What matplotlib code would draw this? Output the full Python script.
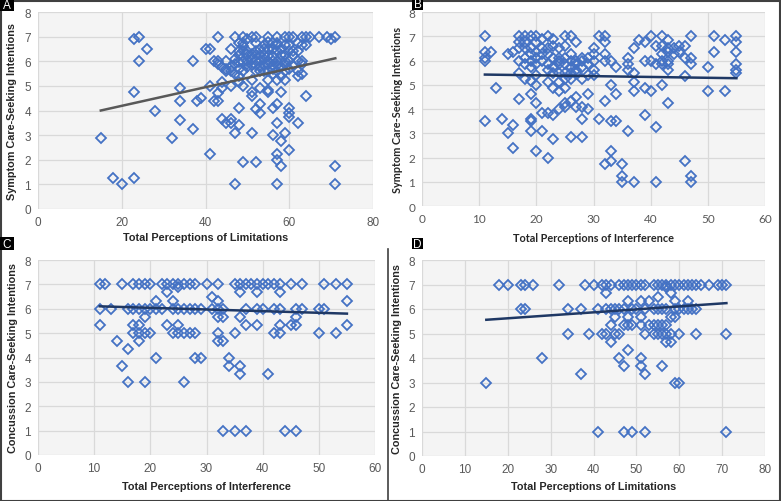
import matplotlib
matplotlib.use("Agg")
import matplotlib.pyplot as plt
from matplotlib.patches import Rectangle
from matplotlib.lines import Line2D

# ---------------- data ----------------
# Panel A: Total Perceptions of Limitations vs Symptom Care-Seeking Intentions
a_pts = [(15, 2.9), (18, 1.25), (20, 1.0), (23, 1.25), (23, 6.9), (24, 7.0), (23, 4.75), (24, 6.0),
         (26, 6.5), (28, 4.0), (32, 2.9), (34, 4.9), (34, 4.4), (34, 3.6), (37, 6.0), (37, 3.25),
         (38, 4.4), (39, 4.5), (40, 6.5), (41, 6.5), (41, 5.0), (41, 2.25), (42, 6.0), (42, 4.4),
         (43, 7.0), (43, 6.0), (43, 5.9), (43, 4.7), (43, 4.4), (44, 5.15), (44, 4.9), (44, 3.65),
         (45, 5.7), (45, 3.5), (46, 6.5), (46, 5.6), (46, 5.0), (46, 3.65), (46, 3.5),
         (47, 7.0), (47, 5.9), (47, 3.1), (47, 1.0), (48, 6.75), (48, 6.4), (48, 5.95), (48, 5.7),
         (48, 5.15), (48, 4.1), (48, 3.4), (49, 7.0), (49, 6.75), (49, 6.4), (49, 5.95), (49, 5.0),
         (49, 1.9), (50, 6.3), (50, 5.9), (51, 7.0), (51, 6.3), (51, 5.25), (51, 4.75), (51, 4.6),
         (51, 3.1), (52, 7.0), (52, 6.75), (52, 6.4), (52, 6.0), (52, 5.6), (52, 4.05), (52, 1.9),
         (53, 6.0), (53, 5.6), (53, 4.9), (53, 4.25), (53, 3.9), (54, 6.5), (54, 6.1), (54, 5.85),
         (55, 7.0), (55, 6.5), (55, 6.2), (55, 5.9), (55, 5.25), (55, 4.85), (55, 4.75),
         (56, 6.75), (56, 6.2), (56, 5.7), (56, 4.1), (56, 3.0), (57, 7.0), (57, 6.75), (57, 6.4),
         (57, 6.0), (57, 5.6), (57, 5.25), (57, 4.25), (57, 3.5), (57, 2.25), (57, 2.0), (57, 1.0),
         (58, 6.5), (58, 6.0), (58, 5.4), (58, 4.75), (58, 2.75), (58, 1.75), (59, 7.0), (59, 6.65),
         (59, 6.0), (59, 5.25), (59, 3.1), (60, 7.0), (60, 6.4), (60, 5.7), (60, 4.1), (60, 3.9),
         (60, 3.75), (60, 2.4), (61, 7.0), (61, 6.4), (62, 6.75), (62, 6.4), (62, 6.0), (62, 5.4),
         (62, 3.5), (63, 7.0), (63, 6.0), (63, 5.5), (64, 7.0), (64, 6.65), (64, 4.6), (65, 7.0),
         (67, 7.0), (69, 7.0), (70, 6.9), (71, 7.0), (71, 1.75), (71, 1.0),
         (47, 6.1), (48, 6.25), (49, 6.6), (50, 6.0), (50, 5.75), (51, 5.85), (51, 6.1), (52, 5.85),
         (53, 6.25), (53, 5.75), (54, 6.25), (54, 5.6), (55, 6.0), (55, 5.6), (56, 6.0),
         (56, 5.85), (56, 5.5), (57, 5.85), (58, 6.25), (58, 5.75), (59, 5.6), (59, 5.9), (60, 6.0),
         (60, 6.65), (61, 5.85), (62, 5.6), (63, 5.9), (46, 5.75), (45, 6.0), (44, 5.75), (53, 6.5),
         (52, 6.25), (49, 5.6), (50, 6.4), (48, 5.4), (47, 5.5), (59, 6.25), (61, 6.25),
         (63, 6.65), (54, 6.65), (55, 6.8), (56, 6.5), (57, 6.65), (45, 5.6), (50, 6.9)]
a_trend_x = [15, 71]
a_trend_y = [4.0, 6.12]

# Panel B: Total Perceptions of Interference vs Symptom Care-Seeking Intentions
b_pts = [(11, 7.0), (11, 6.35), (11, 6.1), (11, 6.0), (11, 3.5), (12, 6.35), (13, 4.85), (14, 3.6),
         (15, 6.25), (15, 3.0), (16, 6.35), (16, 3.35), (16, 2.4), (17, 7.0), (17, 6.75), (17, 6.5),
         (17, 6.0), (17, 5.5), (17, 4.4), (18, 7.0), (18, 6.75), (18, 6.5), (18, 5.85), (18, 5.25),
         (19, 7.0), (19, 6.25), (19, 6.0), (19, 5.75), (19, 5.15), (19, 4.6), (19, 3.6), (19, 3.5),
         (19, 3.1), (20, 7.0), (20, 6.35), (20, 6.1), (20, 5.85), (20, 5.4), (20, 5.0), (20, 4.25),
         (20, 2.25), (21, 6.9), (21, 6.0), (21, 3.85), (21, 3.1), (22, 7.0), (22, 6.5), (22, 6.25),
         (22, 5.85), (22, 5.1), (22, 3.85), (22, 2.0), (23, 6.9), (23, 6.6), (23, 5.75), (23, 4.85),
         (23, 3.75), (23, 2.75), (24, 6.5), (24, 6.1), (24, 6.0), (24, 5.5), (24, 5.1), (24, 4.75),
         (24, 4.0), (25, 7.0), (25, 6.6), (25, 6.1), (25, 5.5), (25, 5.25), (25, 4.85), (25, 4.25),
         (25, 4.1), (26, 7.0), (26, 6.0), (26, 5.75), (26, 5.25), (26, 4.35), (26, 2.85),
         (27, 6.75), (27, 5.85), (27, 5.6), (27, 5.5), (27, 4.5), (27, 4.1), (28, 6.1), (28, 5.75),
         (28, 5.25), (28, 4.1), (28, 3.6), (28, 2.85), (29, 5.85), (29, 5.4), (29, 4.6), (29, 4.0),
         (30, 6.5), (30, 6.25), (30, 6.0), (30, 5.4), (31, 7.0), (31, 3.6), (32, 7.0), (32, 6.75),
         (32, 6.25), (32, 6.0), (32, 4.35), (32, 1.75), (33, 5.0), (33, 3.5), (33, 2.25), (33, 1.85),
         (34, 4.6), (34, 3.5), (35, 1.75), (35, 1.25), (35, 1.0), (36, 6.1), (36, 5.85), (36, 5.6),
         (36, 3.1), (37, 6.5), (37, 5.5), (37, 5.1), (37, 4.75), (37, 1.0), (38, 6.85), (39, 6.75),
         (39, 6.0), (39, 4.85), (39, 3.75), (40, 7.0), (40, 6.0), (40, 4.75), (41, 6.6), (41, 5.85),
         (41, 3.25), (41, 1.0), (42, 7.0), (42, 6.25), (42, 6.0), (42, 5.85), (42, 5.0), (43, 6.85),
         (43, 6.5), (43, 6.35), (43, 6.0), (43, 5.6), (43, 4.25), (44, 6.5), (45, 6.6), (45, 6.35),
         (46, 6.6), (46, 6.1), (46, 5.35), (46, 1.85), (47, 7.0), (47, 6.1), (47, 5.85), (47, 1.25),
         (47, 1.0), (50, 5.75), (50, 4.75), (51, 7.0), (51, 6.35), (53, 6.85), (53, 4.75),
         (55, 7.0), (55, 6.75), (55, 6.35), (55, 5.85), (55, 5.6), (55, 5.5),
         (18, 6.1), (19, 6.5), (21, 6.25), (21, 6.5), (22, 5.6), (23, 6.1), (24, 5.85), (25, 5.85),
         (26, 6.25), (26, 5.5), (27, 6.0), (23, 5.5), (20, 6.75), (28, 6.0), (29, 6.1), (30, 5.6),
         (33, 6.0), (34, 5.75), (42, 6.6), (44, 6.25), (43, 5.85)]
b_trend_x = [11, 55]
b_trend_y = [5.42, 5.27]

# Panel C: Total Perceptions of Interference vs Concussion Care-Seeking Intentions
c_pts = [(11, 7), (11, 6), (11, 5.33), (12, 7), (13, 6), (14, 4.67), (15, 7), (15, 3.67),
         (16, 6), (16, 4.33), (16, 3), (17, 7), (17, 6), (17, 5.33), (17, 5), (18, 7), (18, 6),
         (18, 5.33), (18, 5), (18, 4.67), (19, 7), (19, 6), (19, 5.67), (19, 5), (19, 3), (20, 7),
         (20, 6), (20, 5), (21, 6.33), (21, 6), (21, 4), (22, 7), (22, 6), (23, 7), (23, 6.67),
         (23, 5.33), (24, 7), (24, 6.33), (24, 6), (24, 5), (25, 7), (25, 6.9), (25, 6), (25, 5.33),
         (25, 5), (26, 7), (26, 6), (26, 5), (26, 3), (27, 7), (27, 6), (27, 5), (28, 7), (28, 6),
         (28, 5), (28, 4), (29, 6), (29, 4), (30, 7), (31, 6.5), (31, 6), (32, 7), (32, 6.33),
         (32, 6), (32, 5.67), (32, 5), (32, 4.67), (33, 6), (33, 5.67), (33, 4.67), (33, 1),
         (34, 4), (34, 3.67), (35, 7), (35, 5), (35, 1), (36, 7), (36, 6.67), (36, 5.67),
         (36, 3.67), (36, 3.33), (37, 7), (37, 6), (37, 5.33), (37, 1), (38, 7), (39, 7),
         (39, 6.67), (39, 6), (39, 5.33), (40, 7), (40, 6), (41, 7), (41, 3.33), (42, 7), (42, 6),
         (42, 5), (43, 7), (43, 6.67), (43, 6), (43, 5.33), (43, 5), (44, 1), (45, 7), (45, 5.33),
         (46, 6), (46, 5.67), (46, 5.33), (46, 1), (47, 7), (47, 6), (50, 6), (50, 5), (51, 7),
         (51, 6), (53, 7), (53, 5), (55, 7), (55, 6.33), (55, 5.33)]
c_trend_x = [11, 55]
c_trend_y = [6.10, 5.80]

# Panel D: Total Perceptions of Limitations vs Concussion Care-Seeking Intentions
d_pts = [(15, 3), (18, 7), (20, 7), (23, 7), (23, 6), (24, 7), (24, 6), (26, 7), (28, 4), (32, 7),
         (34, 6), (34, 5), (37, 6), (37, 3.33), (38, 7), (39, 5), (40, 7), (41, 6), (41, 1),
         (42, 7), (42, 5), (43, 7), (43, 6.67), (43, 6), (43, 5), (44, 7), (44, 6), (44, 5.33),
         (44, 4.67), (45, 6), (45, 5.67), (45, 5), (46, 7), (46, 6), (46, 5), (46, 4), (47, 7),
         (47, 6), (47, 5.33), (47, 3.67), (47, 1), (48, 7), (48, 6.33), (48, 5.67), (48, 5.33),
         (48, 4.33), (49, 7), (49, 6), (49, 5.33), (49, 1), (50, 7), (50, 6), (51, 7), (51, 6.33),
         (51, 5.67), (51, 5.33), (51, 4), (51, 3.67), (52, 7), (52, 6), (52, 5), (52, 3.33), (52, 1),
         (53, 6.33), (53, 5.33), (54, 7), (54, 6), (54, 5.33), (54, 5), (55, 7), (55, 6.5), (55, 6),
         (55, 5.33), (55, 5), (56, 7), (56, 6), (56, 5.33), (56, 5), (56, 3.67), (57, 7), (57, 6.9),
         (57, 6), (57, 5.33), (57, 5), (57, 4.67), (58, 7), (58, 6.67), (58, 5.67), (58, 5),
         (58, 4.67), (59, 7), (59, 6.33), (59, 6), (59, 5.67), (59, 3), (60, 7), (60, 6), (60, 5),
         (60, 3), (61, 7), (61, 6), (62, 7), (62, 6.33), (62, 6), (63, 7), (63, 6), (64, 7), (64, 6),
         (64, 5), (65, 7), (67, 7), (69, 7), (70, 7), (71, 7), (71, 5), (71, 1)]
d_trend_x = [15, 71]
d_trend_y = [5.56, 6.24]

# ---------------- styling ----------------
W, H = 781, 502
fig = plt.figure(figsize=(W / 100, H / 100), dpi=100)
fig.patch.set_facecolor("white")

BLUE = "#4472C4"
GRID = "#d9d9d9"
FACE = "#f4f4f4"
TICKC = "#595959"
LABC = "#262626"


def px_rect(l, t, r, b):
    return [l / W, 1 - b / H, (r - l) / W, (b - t) / H]


panels = [
    dict(pts=a_pts, tx=a_trend_x, ty=a_trend_y, rect=px_rect(38, 13, 373, 210), xmax=80, xstep=20,
         xlabel="Total Perceptions of Limitations", ylabel="Symptom Care-Seeking Intentions",
         tcolor="#595959", font="Liberation Sans", xlab_y=-0.142, ylab_x=-0.078),
    dict(pts=b_pts, tx=b_trend_x, ty=b_trend_y, rect=px_rect(422, 13, 765, 207), xmax=60, xstep=10,
         xlabel="Total Perceptions of Interference", ylabel="Symptom Care-Seeking Intentions",
         tcolor="#1f3864", font="Lato", xlab_y=-0.16, ylab_x=-0.07),
    dict(pts=c_pts, tx=c_trend_x, ty=c_trend_y, rect=px_rect(38, 261, 375, 456), xmax=60, xstep=10,
         xlabel="Total Perceptions of Interference", ylabel="Concussion Care-Seeking Intentions",
         tcolor="#1f3864", font="Liberation Sans", xlab_y=-0.159, ylab_x=-0.074),
    dict(pts=d_pts, tx=d_trend_x, ty=d_trend_y, rect=px_rect(422, 261, 765, 457), xmax=80, xstep=10,
         xlabel="Total Perceptions of Limitations", ylabel="Concussion Care-Seeking Intentions",
         tcolor="#1f3864", font="Liberation Sans", xlab_y=-0.153, ylab_x=-0.073),
]

for p in panels:
    ax = fig.add_axes(p["rect"])
    ax.set_facecolor(FACE)
    xs = [q[0] for q in p["pts"]]
    ys = [q[1] for q in p["pts"]]
    ax.plot(xs, ys, linestyle="none", marker="D", markersize=5.2, markerfacecolor="none",
            markeredgecolor=BLUE, markeredgewidth=1.3, zorder=3)
    ax.plot(p["tx"], p["ty"], color=p["tcolor"], linewidth=1.8, zorder=4)
    ax.set_xlim(0, p["xmax"])
    ax.set_ylim(0, 8)
    ax.set_xticks(range(0, p["xmax"] + 1, p["xstep"]))
    ax.set_yticks(range(0, 9))
    ax.grid(True, color=GRID, linewidth=0.9, zorder=0)
    ax.set_axisbelow(True)
    for s in ax.spines.values():
        s.set_visible(False)
    ax.tick_params(length=0, labelsize=8.5, labelcolor=TICKC, pad=5)
    for lab in ax.get_xticklabels() + ax.get_yticklabels():
        lab.set_fontfamily(p["font"])
    ax.set_xlabel(p["xlabel"], fontsize=7.8, fontweight="bold", color=LABC, family=p["font"])
    ax.set_ylabel(p["ylabel"], fontsize=7.8, fontweight="bold", color=LABC, family=p["font"])
    ax.xaxis.label.set_va("center")
    ax.yaxis.label.set_va("center")
    ax.xaxis.set_label_coords(0.5, p["xlab_y"])
    ax.yaxis.set_label_coords(p["ylab_x"], 0.5)

# frame and panel dividers
frame = Rectangle((0.5 / W, 0.5 / H), (W - 2) / W, (H - 2) / H, transform=fig.transFigure,
                  fill=False, edgecolor="#404040", linewidth=1.5)
fig.add_artist(frame)
fig.add_artist(Line2D([388 / W, 388 / W], [0, 1 - 250 / H], transform=fig.transFigure,
                      color="#404040", linewidth=1.2))

# panel letters
for letter, l, t, r, b in [("A", 0, 0, 14, 12), ("B", 412, 0, 423, 11),
                           ("C", 0, 238, 14, 251), ("D", 412, 239, 423, 250)]:
    fig.add_artist(Rectangle((l / W, 1 - b / H), (r - l) / W, (b - t) / H, transform=fig.transFigure,
                             facecolor="black", edgecolor="none"))
    fig.text((l + r) / 2 / W, 1 - (t + b) / 2 / H, letter, color="white", fontsize=8.5,
             ha="center", va="center", family="Liberation Sans")

fig.savefig("out.png", dpi=100)
